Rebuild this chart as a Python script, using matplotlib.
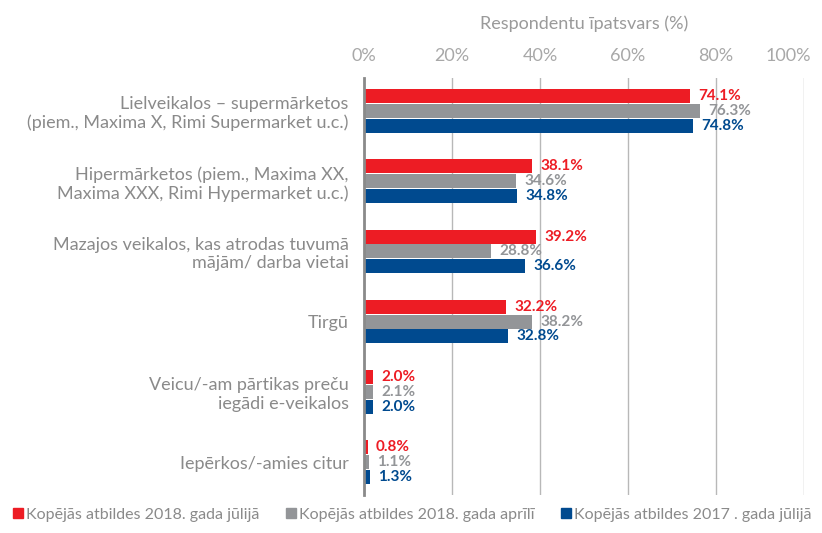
import numpy as np
import matplotlib
matplotlib.use("Agg")
import matplotlib.pyplot as plt
import matplotlib.transforms as mtransforms
from matplotlib.lines import Line2D

plt.rcParams["font.family"] = ["Lato", "DejaVu Sans"]

categories = [
    "Lielveikalos – supermārketos\n(piem., Maxima X, Rimi Supermarket u.c.)",
    "Hipermārketos (piem., Maxima XX,\nMaxima XXX, Rimi Hypermarket u.c.)",
    "Mazajos veikalos, kas atrodas tuvumā\nmājām/ darba vietai",
    "Tirgū",
    "Veicu/-am pārtikas preču\niegādi e-veikalos",
    "Iepērkos/-amies citur",
]
jul_2018 = [74.1, 38.1, 39.2, 32.2, 2.0, 0.8]
apr_2018 = [76.3, 34.6, 28.8, 38.2, 2.1, 1.1]
jul_2017 = [74.8, 34.8, 36.6, 32.8, 2.0, 1.3]
series_names = [
    "Kopējās atbildes 2018. gada jūlijā",
    "Kopējās atbildes 2018. gada aprīlī",
    "Kopējās atbildes 2017 . gada jūlijā",
]
colors = ["#ED1C24", "#939598", "#004A8F"]
xticks = [0, 20, 40, 60, 80, 100]

fig = plt.figure(figsize=(8.22, 5.33), dpi=100)
ax = fig.add_axes([0.4428, 0.0713, 0.5353, 0.7824])

y = np.arange(len(categories))
h = 0.2
offsets = [-0.21, 0.0, 0.21]
for vals, off, c in zip([jul_2018, apr_2018, jul_2017], offsets, colors):
    ax.barh(y + off, vals, height=h, color=c, zorder=3)
    for yi, v in zip(y, vals):
        ax.annotate(f"{v:.1f}%", (v, yi + off), xytext=(6, 0),
                    textcoords="offset points", va="center", ha="left",
                    color=c, fontsize=11, fontweight="bold")

ax.set_xlim(0, 100)
ax.set_ylim(5.47, -0.47)
ax.set_xticks(xticks)
ax.set_xticklabels([f"{t}%" for t in xticks])
ax.xaxis.tick_top()
ax.xaxis.set_label_position("top")
ax.set_xlabel("Respondentu īpatsvars (%)", color="#9a9a9a", fontsize=13,
              labelpad=14)
ax.tick_params(axis="x", length=0, pad=10, labelsize=13, labelcolor="#a8a8a8")
# keep the last tick label inside the figure
last = ax.get_xticklabels()[-1]
last.set_horizontalalignment("right")
last.set_transform(last.get_transform() +
                   mtransforms.ScaledTranslation(5 / 72, 0, fig.dpi_scale_trans))
ax.set_yticks(y)
ax.set_yticklabels(categories)
ax.tick_params(axis="y", length=0, pad=11, labelsize=13, labelcolor="#8a8a8a")
ax.grid(axis="x", color="#b8b8b8", linewidth=1, zorder=0)
for s in ["top", "right", "bottom"]:
    ax.spines[s].set_visible(False)
ax.spines["left"].set_color("#8a8a8a")
ax.spines["left"].set_linewidth(2)
ax.spines["left"].set_zorder(4)

handles = [Line2D([], [], marker="s", linestyle="none", color=c, markersize=7)
           for c in colors]
fig.legend(handles, series_names, loc="lower left", bbox_to_anchor=(0.0, 0.0),
           ncol=3, frameon=False, fontsize=11.5, labelcolor="#8a8a8a",
           handletextpad=0.1, columnspacing=1.6, handlelength=0.8,
           borderpad=0.5, borderaxespad=0.2)

fig.savefig("out.png", dpi=100)
